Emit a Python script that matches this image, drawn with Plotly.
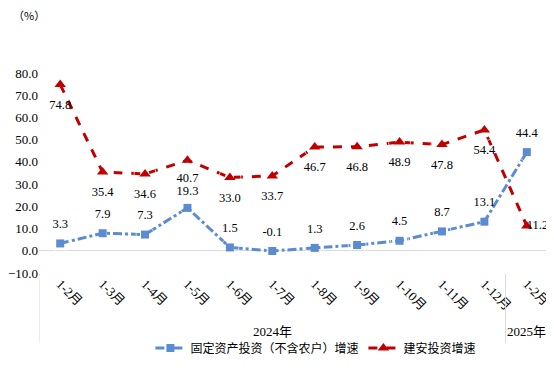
import plotly.graph_objects as go

years = ["2024年"] * 11 + ["2025年"]
months = ["1-2月", "1-3月", "1-4月", "1-5月", "1-6月", "1-7月", "1-8月",
          "1-9月", "1-10月", "1-11月", "1-12月", "1-2月"]
fixed_invest = [3.3, 7.9, 7.3, 19.3, 1.5, -0.1, 1.3, 2.6, 4.5, 8.7, 13.1, 44.4]
build_invest = [74.8, 35.4, 34.6, 40.7, 33.0, 33.7, 46.7, 46.8, 48.9, 47.8, 54.4, 11.2]
name_fixed = "固定资产投资（不含农户）增速"
name_build = "建安投资增速"

num_font = "Liberation Serif, Times New Roman, serif"
cjk_font = "Noto Sans CJK SC, sans-serif"
mix_font = num_font + ", " + cjk_font
blue = "#5B8BD0"
red = "#C00000"
divider = "#D9D9D9"

# unique category keys (year + period), shown with period labels only
x = [yr + m for yr, m in zip(years, months)]

# year groups: boundaries and centres in category-index units
groups = []
for i, yr in enumerate(years):
    if not groups or groups[-1][0] != yr:
        groups.append([yr, i, i])
    else:
        groups[-1][2] = i
bounds = [groups[0][1] - 0.5] + [g[2] + 0.5 for g in groups]

fig = go.Figure()
fig.add_trace(go.Scatter(
    x=x, y=fixed_invest, name=name_fixed, mode="lines+markers",
    line=dict(color=blue, width=3, dash="dashdot"),
    marker=dict(symbol="square", size=8, color=blue),
))
fig.add_trace(go.Scatter(
    x=x, y=build_invest, name=name_build, mode="lines+markers",
    line=dict(color=red, width=3, dash="dash"),
    marker=dict(symbol="triangle-up", size=10, color=red),
))
# data labels (invisible larger markers give the label offset)
fixed_pad = [18, 18, 18, 14, 18, 18, 18, 18, 18, 18, 18, 18]
fig.add_trace(go.Scatter(
    x=x, y=fixed_invest, mode="markers+text", showlegend=False, hoverinfo="skip",
    marker=dict(size=fixed_pad, color="rgba(0,0,0,0)"),
    text=[f"{v:.1f}" for v in fixed_invest], textposition="top center",
    textfont=dict(family=num_font, size=12.5, color="#000000"), cliponaxis=False,
))
build_pos = ["bottom center"] * 11 + ["middle right"]
build_pad = [22, 22, 22, 18, 22, 22, 22, 22, 22, 22, 22, 0]
fig.add_trace(go.Scatter(
    x=x, y=build_invest, mode="markers+text", showlegend=False, hoverinfo="skip",
    marker=dict(size=build_pad, color="rgba(0,0,0,0)"),
    text=[f"{v:.1f}" for v in build_invest], textposition=build_pos,
    textfont=dict(family=num_font, size=12.5, color="#000000"), cliponaxis=False,
))

annotations = [dict(text="（%）", xref="paper", yref="paper", x=-0.055, y=1.29,
                    xanchor="left", yanchor="middle", showarrow=False,
                    font=dict(family=cjk_font, size=11, color="#000000"))]
for yr, i0, i1 in groups:
    annotations.append(dict(text=yr, xref="x", yref="paper", x=(i0 + i1) / 2,
                            y=-0.29, xanchor="center", yanchor="middle", showarrow=False,
                            font=dict(family=mix_font, size=13, color="#000000")))
shapes = [dict(type="line", xref="x", yref="paper", x0=b, x1=b, y0=-0.005, y1=-0.35,
               line=dict(color=divider, width=1)) for b in bounds]

fig.update_layout(
    width=546, height=368,
    margin=dict(l=31, r=6, t=65, b=103, autoexpand=False),
    paper_bgcolor="white", plot_bgcolor="white",
    font=dict(family=num_font, size=12, color="#000000"),
    showlegend=True,
    legend=dict(orientation="h", x=0.544, xanchor="center", y=-0.375, yanchor="middle",
                font=dict(family=cjk_font, size=12, color="#000000"),
                itemwidth=30, tracegroupgap=0, bgcolor="rgba(0,0,0,0)"),
    annotations=annotations,
    shapes=shapes,
)
fig.update_yaxes(range=[-10, 80], dtick=10, tickformat=".1f", showgrid=False,
                 zeroline=True, zerolinecolor=divider, zerolinewidth=1,
                 showline=False, ticks="", automargin=False,
                 tickfont=dict(family=num_font, size=13))
fig.update_xaxes(type="category", range=[-0.5, len(x) - 0.5], tickangle=45,
                 tickvals=x, ticktext=months,
                 showgrid=False, showline=False, ticks="", automargin=False,
                 tickfont=dict(family=mix_font, size=13))

fig.write_html("out.html")
